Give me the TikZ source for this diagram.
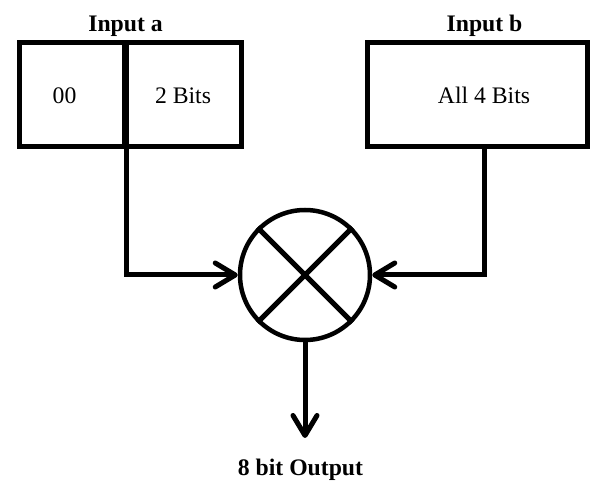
\documentclass[tikz,border=0pt]{standalone}
\usepackage{fontspec}
\setmainfont{Liberation Serif}
\usetikzlibrary{arrows.meta}
\tikzset{
  box/.style={draw, line width=5pt, rectangle, inner sep=0pt, outer sep=0pt},
  conn/.style={draw, line width=5pt, -{Straight Barb[length=20pt,width=24pt,round]}},
  wire/.style={line width=5pt},
  txt/.style={anchor=base, inner sep=0pt, font=\fontsize{23.7}{28}\selectfont},
  head/.style={txt, font=\fontsize{23.7}{28}\selectfont\bfseries},
}
\begin{document}
\begin{tikzpicture}[x=1pt, y=-1pt]
  \useasboundingbox (0,0) rectangle (590,481);

  % input a: two fields sharing a thick middle edge
  \node[box, minimum width=105pt, minimum height=104pt] (a0) at (72,94.5) {};
  \node[box, minimum width=115pt, minimum height=104pt] (a1) at (184,94.5) {};
  % input b: a single field
  \node[box, minimum width=219.5pt, minimum height=104.5pt] (b) at (477.25,94.75) {};

  \node[head] (la) at (125.5,32) {Input a};
  \node[head] (lb) at (484.5,32) {Input b};
  \node[txt] (t00) at (64.5,104) {00};
  \node[txt] (t2) at (183,104) {2 Bits};
  \node[txt] (t4) at (484,104) {All 4 Bits};

  % multiplier
  \node[circle, draw, line width=4.5pt, minimum size=130pt, inner sep=0pt] (mix) at (305,275) {};
  \draw[wire] (mix.north west) -- (mix.south east);
  \draw[wire] (mix.north east) -- (mix.south west);

  \coordinate (bout) at (484.5,147);
  \coordinate (tip) at (305,438);
  \node[head] (out) at (300.5,476) {8 bit Output};

  \draw[conn] (a1.south west) |- (mix.west);
  \draw[conn] (bout) |- (mix.east);
  \draw[conn] (mix.south) -- (tip);
\end{tikzpicture}
\end{document}
